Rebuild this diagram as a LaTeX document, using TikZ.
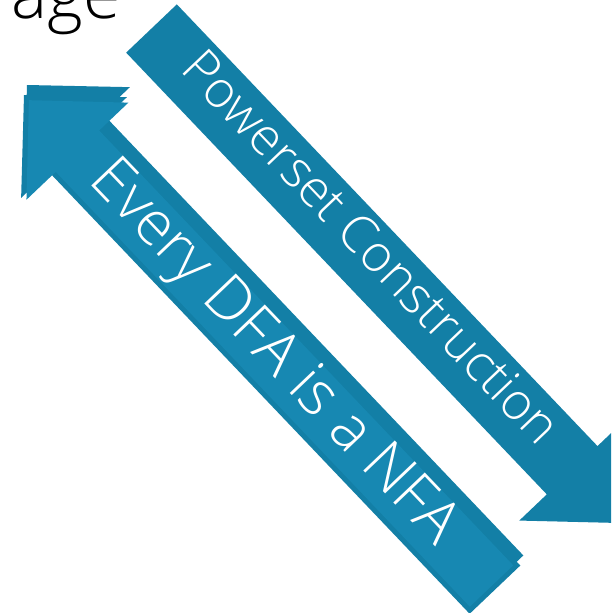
\documentclass[tikz,border=0pt]{standalone}
\usepackage{fontspec}
\setmainfont{Open Sans Light}
\definecolor{arrowdark}{HTML}{137FA6}
\definecolor{arrowlight}{HTML}{1788B2}
\tikzset{
  darkfill/.style={fill=arrowdark, draw=none},
  lightfill/.style={fill=arrowlight, draw=none},
  arrowlabel/.style={text=white, inner sep=0pt, anchor=base, rotate=-46.4},
}
\begin{document}
\begin{tikzpicture}[x=1pt,y=-1pt]
\clip (0,0) rectangle (611,613);
\fill[white] (0,0) rectangle (611,613);

% clipped title text
\node[anchor=base east, inner sep=0pt, font=\fontsize{68}{76}\selectfont] (title) at (121,19) {age};

% Powerset Construction arrow (upper-left to lower-right)
\begin{scope}[shift={(151.5,28.5)}, rotate=-46.4]
  \fill[darkfill] (0,-35) -- (610,-35) -- (610,-73) -- (683,0) -- (610,73) -- (610,35) -- (0,35) -- cycle;
  \node[arrowlabel, font=\fontsize{51}{58}\selectfont] (pc) at (310,9) {Powerset Construction};
\end{scope}

% Every DFA is a NFA arrow (lower-right to upper-left)
\begin{scope}[shift={(27,85)}, rotate=-46.4]
  \fill[darkfill] (5.2,9.1) -- (77.7,-63.9) -- (77.7,-25.9) -- (688.2,-25.9) -- (688.2,44.1) -- (77.7,44.1) -- (77.7,82.1) -- cycle;
  \fill[darkfill] (0,0) -- (72.5,-73) -- (72.5,-35) -- (683,-35) -- (683,35) -- (72.5,35) -- (72.5,73) -- cycle;
  \fill[lightfill] (12.3,9.1) -- (82.7,-61.3) -- (82.7,-20.9) -- (683.2,-20.9) -- (683.2,39.1) -- (82.7,39.1) -- (82.7,79.5) -- cycle;
  \node[arrowlabel, font=\fontsize{61}{68}\selectfont] (dfa) at (364,22.5) {Every DFA is a NFA};
\end{scope}
\end{tikzpicture}
\end{document}
